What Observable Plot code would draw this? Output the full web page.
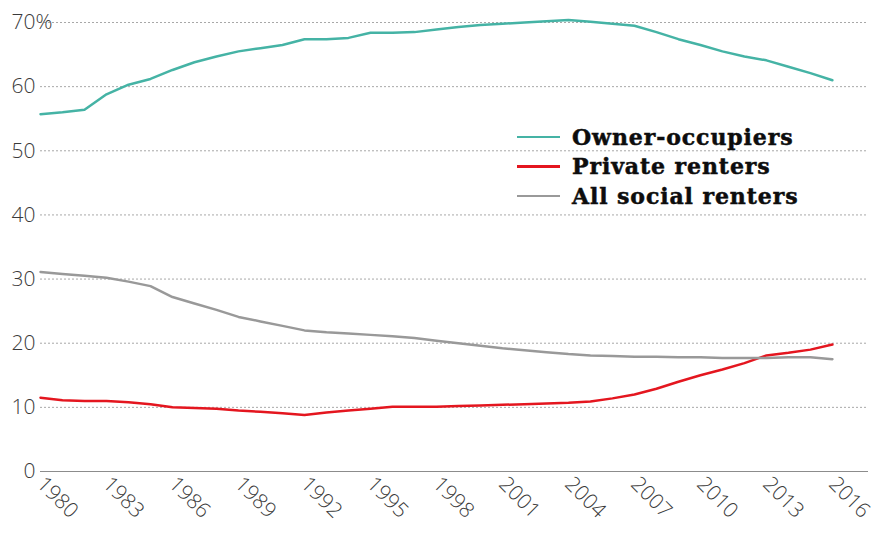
<!DOCTYPE html>
<html><head><meta charset="utf-8">
<script src="https://cdn.jsdelivr.net/npm/d3@7"></script>
<script src="https://cdn.jsdelivr.net/npm/@observablehq/plot@0.6"></script>
<style>
body{margin:0;background:#fff;}
#wrap{position:relative;width:879px;height:535px;overflow:hidden;}
.legend{position:absolute;left:517px;top:122px;font-family:"DejaVu Serif",serif;font-weight:bold;font-size:22px;color:#0d0d0d;letter-spacing:0.9px;-webkit-text-stroke:0.5px #0d0d0d;}
.legend div{display:flex;align-items:center;height:29.5px;white-space:nowrap;}
.legend .sw{display:inline-block;width:43px;height:2.5px;margin-right:12px;}
</style></head><body><div id="wrap"></div>
<script>
const years = [1980,1981,1982,1983,1984,1985,1986,1987,1988,1989,1990,1991,1992,1993,1994,1995,1996,1997,1998,1999,2000,2001,2002,2003,2004,2005,2006,2007,2008,2009,2010,2011,2012,2013,2014,2015,2016];
const ownerOccupiers = [55.7,56.0,56.4,58.8,60.3,61.2,62.6,63.8,64.7,65.5,66.0,66.5,67.4,67.4,67.6,68.4,68.4,68.5,68.9,69.3,69.6,69.8,70.0,70.2,70.4,70.1,69.8,69.5,68.5,67.4,66.5,65.5,64.7,64.1,63.1,62.1,61.0];
const privateRenters = [11.5,11.1,11.0,11.0,10.8,10.5,10.0,9.9,9.8,9.5,9.3,9.1,8.8,9.2,9.5,9.8,10.1,10.1,10.1,10.2,10.3,10.4,10.5,10.6,10.7,10.9,11.4,12.0,12.9,14.0,15.0,15.9,16.9,18.1,18.5,19.0,19.8];
const socialRenters = [31.1,30.8,30.5,30.2,29.6,28.9,27.2,26.2,25.2,24.1,23.4,22.7,22.0,21.7,21.5,21.3,21.1,20.8,20.4,20.0,19.6,19.2,18.9,18.6,18.3,18.1,18.0,17.9,17.9,17.8,17.8,17.7,17.7,17.7,17.8,17.8,17.5];
const seriesNames = ["Owner-occupiers","Private renters","All social renters"];
const seriesColors = ["#45b3a5","#e4161f","#999999"];
const xTicks = [1980,1983,1986,1989,1992,1995,1998,2001,2004,2007,2010,2013,2016];
const yTicks = [0,10,20,30,40,50,60,70];
const gridTicks = [10,20,30,40,50,60,70];

const seriesValues = [ownerOccupiers, privateRenters, socialRenters];
const data = [];
seriesNames.forEach((name, i) => years.forEach((yr, j) => data.push({series: name, year: yr, value: seriesValues[i][j]})));

const chart = Plot.plot({
  width: 879,
  height: 535,
  marginLeft: 40,
  marginRight: 11,
  marginTop: 22,
  marginBottom: 64,
  style: {fontFamily: "'Open Sans', sans-serif", color: "#3a3a3a", background: "#fff", fontWeight: 300},
  x: {domain: [1980, 2017.64]},
  y: {domain: [0, 70]},
  color: {domain: seriesNames, range: seriesColors},
  marks: [
    Plot.ruleY(gridTicks, {stroke: "#a8a8a8", strokeDasharray: "2,2", strokeWidth: 1}),
    Plot.ruleY([0], {stroke: "#8c8c8c", strokeWidth: 1.2}),
    Plot.axisY({ticks: yTicks, tickSize: 0, tickPadding: 5, fontSize: 21, label: null, tickFormat: d => String(d)}),
    Plot.text([70], {y: d => d, text: () => "%", frameAnchor: "left", dx: -5, textAnchor: "start", fontSize: 21, fill: "#3a3a3a"}),
    Plot.axisX({ticks: xTicks, tickFormat: d => String(d), tickRotate: 45, tickSize: 0, tickPadding: 9, fontSize: 21, label: null}),
    Plot.line(data, {x: "year", y: "value", z: "series", stroke: "series", strokeWidth: 2.5, strokeLinejoin: "round", strokeLinecap: "round"})
  ]
});
const wrap = document.getElementById("wrap");
wrap.appendChild(chart);
const legend = document.createElement("div");
legend.className = "legend";
seriesNames.forEach((name, i) => {
  const row = document.createElement("div");
  const sw = document.createElement("span");
  sw.className = "sw";
  sw.style.background = seriesColors[i];
  row.appendChild(sw);
  row.appendChild(document.createTextNode(name));
  legend.appendChild(row);
});
wrap.appendChild(legend);
</script></body></html>
